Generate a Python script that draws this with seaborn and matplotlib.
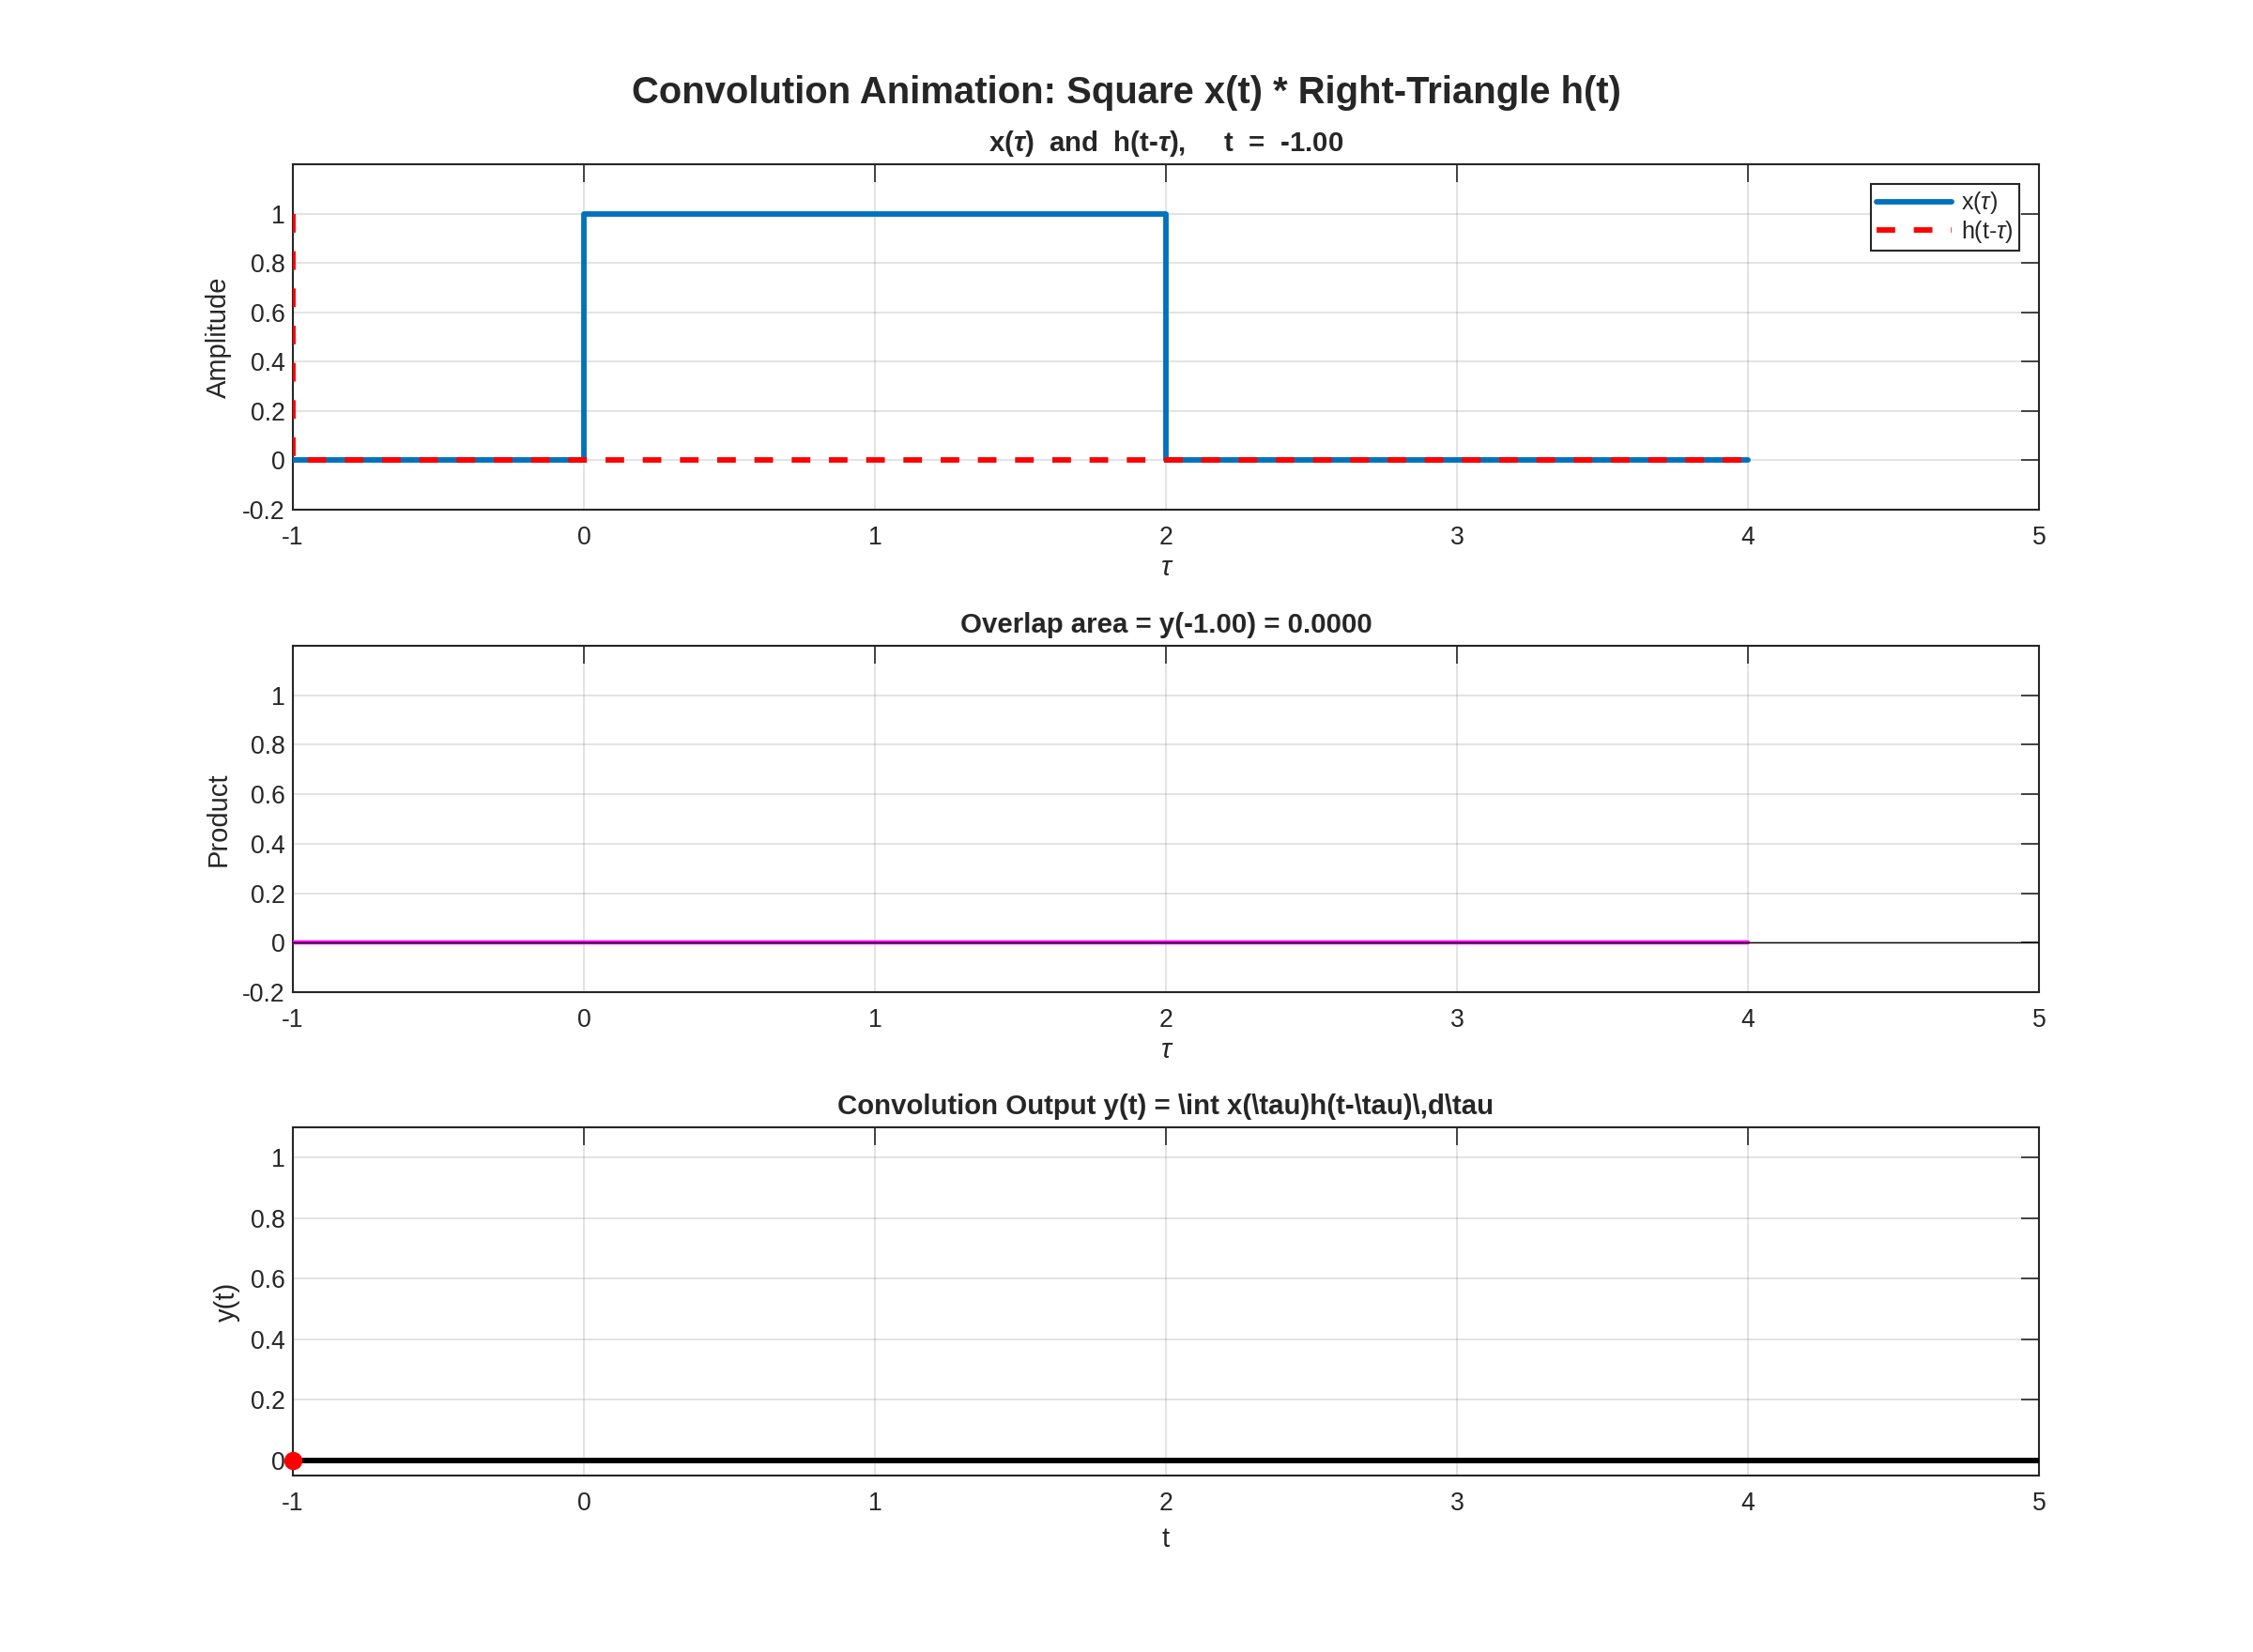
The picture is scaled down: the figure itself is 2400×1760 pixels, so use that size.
import numpy as np
import matplotlib
matplotlib.use("Agg")
import matplotlib.pyplot as plt
from matplotlib.ticker import FuncFormatter
import seaborn as sns

# values (t = -1.00)
t_now = -1.00
overlap = 0.0

x_tau = [-1, 0, 0, 2, 2, 4]          # square pulse x(tau)
x_val = [0, 0, 1, 1, 0, 0]
h_tau = [-1, -1, 4]                  # flipped/shifted right triangle h(t-tau)
h_val = [1, 0, 0]
prod_tau = [-1, 4]                   # product x(tau) h(t-tau)
prod_val = [0, 0]
t_out = [-1, 5]                      # convolution output so far
y_out = [0, 0]

x_ticks = [-1, 0, 1, 2, 3, 4, 5]
amp_ticks = [-0.2, 0, 0.2, 0.4, 0.6, 0.8, 1]
y_ticks = [0, 0.2, 0.4, 0.6, 0.8, 1]

BLUE = "#0072BD"
INK = "#262626"


def main():
    sns.set_theme(style="white")
    plt.rcParams["font.family"] = ["Liberation Sans", "DejaVu Sans"]
    plt.rcParams["axes.unicode_minus"] = False
    plt.rcParams["mathtext.fontset"] = "custom"
    plt.rcParams["mathtext.rm"] = "Liberation Sans"
    plt.rcParams["mathtext.it"] = "Liberation Sans:italic"
    plt.rcParams["mathtext.bf"] = "Liberation Sans:bold"
    plt.rcParams["mathtext.bfit"] = "Liberation Sans:italic:bold"

    fig, axes = plt.subplots(3, 1, figsize=(12, 8.8), dpi=200)
    ax1, ax2, ax3 = axes
    ax1.set_position([0.13, 0.6915, 0.775, 0.2091])
    ax2.set_position([0.13, 0.3994, 0.775, 0.2097])
    ax3.set_position([0.13, 0.1068, 0.775, 0.2108])

    fmt = FuncFormatter(lambda v, p: f"{v:g}")

    def style(ax, yt):
        ax.set_xlim(-1, 5)
        ax.set_xticks(x_ticks)
        ax.set_yticks(yt)
        ax.xaxis.set_major_formatter(fmt)
        ax.yaxis.set_major_formatter(fmt)
        ax.grid(True, color=INK, alpha=0.15, lw=0.6)
        ax.set_axisbelow(True)
        ax.tick_params(direction="in", top=True, right=True, length=7,
                       width=0.6, color=INK, labelcolor=INK, labelsize=9.6)
        ax.tick_params(axis="x", pad=6)
        ax.tick_params(axis="y", pad=3)
        for s in ax.spines.values():
            s.set_color(INK)
            s.set_linewidth(0.75)

    # panel 1: x(tau) and h(t-tau)
    sns.lineplot(x=x_tau, y=x_val, ax=ax1, color=BLUE, lw=2.1, zorder=3,
                 sort=False, estimator=None, label=r"x($\tau$)")
    sns.lineplot(x=h_tau, y=h_val, ax=ax1, color="red", lw=2.1, zorder=3,
                 sort=False, estimator=None, label=r"h(t-$\tau$)")
    ax1.lines[-1].set_dashes((3.4, 3.4))
    ax1.set_ylim(-0.2, 1.2)
    style(ax1, amp_ticks)
    ax1.set_title(r"x($\mathbfit{\tau}$)  and  h(t-$\mathbfit{\tau}$),     t  =  " + f"{t_now:.2f}",
                  fontsize=10.6, fontweight="bold", pad=5)
    ax1.set_xlabel("τ", fontsize=10.5, fontstyle="italic", color=INK, labelpad=2)
    ax1.set_ylabel("Amplitude", fontsize=10.5, color=INK, labelpad=4)
    leg = ax1.legend(loc="upper right", fontsize=9, frameon=True, fancybox=False,
                     framealpha=1, edgecolor=INK, handlelength=3.2,
                     handletextpad=0.4, borderaxespad=0.85, labelspacing=0.1,
                     borderpad=0.25)
    leg.get_frame().set_linewidth(0.75)

    # panel 2: product
    sns.lineplot(x=prod_tau, y=prod_val, ax=ax2, color="magenta", lw=1.6,
                 zorder=3, sort=False, estimator=None)
    ax2.axhline(0, color="black", lw=0.5, zorder=3.5)
    ax2.set_ylim(-0.2, 1.2)
    style(ax2, amp_ticks)
    ax2.set_title(f"Overlap area = y({t_now:.2f}) = {overlap:.4f}",
                  fontsize=10.6, fontweight="bold", pad=5)
    ax2.set_xlabel("τ", fontsize=10.5, fontstyle="italic", color=INK, labelpad=2)
    ax2.set_ylabel("Product", fontsize=10.5, color=INK, labelpad=4)

    # panel 3: output
    sns.lineplot(x=t_out, y=y_out, ax=ax3, color="black", lw=2.1, zorder=3,
                 sort=False, estimator=None)
    ax3.plot([t_out[0]], [y_out[0]], "o", color="red", ms=6, zorder=4, clip_on=False)
    ax3.set_ylim(-0.05, 1.1)
    style(ax3, y_ticks)
    ax3.set_title(r"Convolution Output y(t) = \int x(\tau)h(t-\tau)\,d\tau",
                  fontsize=10.6, fontweight="bold", pad=5)
    ax3.set_xlabel("t", fontsize=10.5, color=INK, labelpad=4)
    ax3.set_ylabel("y(t)", fontsize=10.5, color=INK, labelpad=4)

    fig.suptitle("Convolution Animation: Square x(t) * Right-Triangle h(t)",
                 fontsize=14.4, fontweight="bold", y=0.944, va="center")

    fig.savefig("out.png", dpi=200, facecolor="white")
    plt.close(fig)


if __name__ == "__main__":
    main()
